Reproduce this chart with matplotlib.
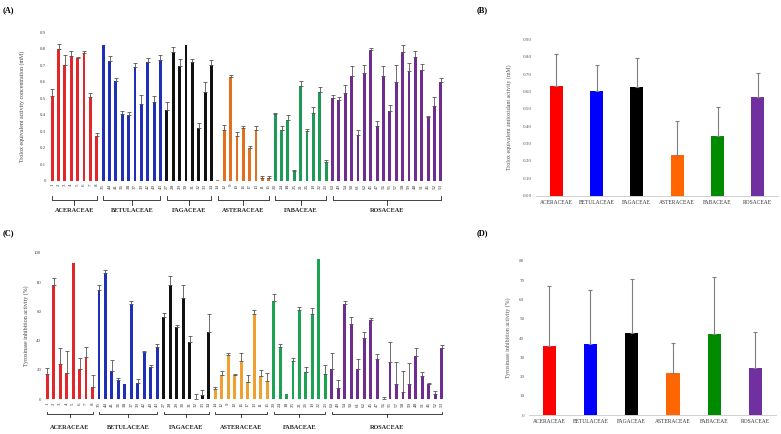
import numpy as np
import matplotlib
matplotlib.use("Agg")
import matplotlib.pyplot as plt
from matplotlib import transforms

plt.rcParams['font.family'] = ['Liberation Serif', 'DejaVu Serif']

families = ['ACERACEAE', 'BETULACEAE', 'FAGACEAE', 'ASTERACEAE', 'FABACEAE', 'ROSACEAE']

# sample numbers per family, in plotted order
samples = [
    ['1', '2', '3', '4', '5', '6', '7', '8'],
    ['35', '44', '41', '36', '38', '37', '39', '42', '40', '43'],
    ['27', '28', '29', '30', '31', '32', '33', '34'],
    ['14', '12', '9', '10', '16', '17', '13', '11', '15'],
    ['20', '24', '18', '25', '21', '26', '19', '22', '23'],
    ['60', '49', '54', '50', '61', '62', '45', '47', '56', '55', '57', '58', '59', '48', '51', '46', '52', '53'],
]

# (A) trolox equivalent activity per sample (mM)
trolox = [
    [0.514, 0.80, 0.70, 0.756, 0.742, 0.772, 0.508, 0.272],
    [0.82, 0.724, 0.603, 0.405, 0.397, 0.69, 0.464, 0.72, 0.478, 0.73],
    [0.43, 0.78, 0.695, 0.82, 0.716, 0.32, 0.54, 0.70],
    [0.004, 0.31, 0.63, 0.27, 0.32, 0.20, 0.31, 0.02, 0.02],
    [0.405, 0.31, 0.37, 0.06, 0.575, 0.30, 0.41, 0.54, 0.115],
    [0.50, 0.49, 0.53, 0.635, 0.28, 0.65, 0.79, 0.33, 0.635, 0.42, 0.60, 0.78, 0.665, 0.75, 0.67, 0.385, 0.45, 0.595],
]
trolox_err = [
    [0.04, 0.025, 0.06, 0.03, 0.008, 0.015, 0.025, 0.02],
    [0, 0.03, 0.02, 0.02, 0.02, 0.02, 0.055, 0.025, 0.035, 0.03],
    [0.05, 0.03, 0.04, 0, 0.02, 0.03, 0.06, 0.03],
    [0, 0.03, 0.01, 0.025, 0.01, 0.01, 0.02, 0.01, 0.01],
    [0.005, 0.02, 0.03, 0.005, 0.03, 0.015, 0.04, 0.03, 0.01],
    [0.02, 0.02, 0.05, 0.06, 0.03, 0.05, 0.015, 0.03, 0.06, 0.04, 0.1, 0.04, 0.05, 0.035, 0.035, 0.01, 0.06, 0.03],
]

# (C) tyrosinase inhibition per sample (%)
tyro = [
    [17.3, 78, 24.3, 18, 92.7, 21, 29, 8.6],
    [74.5, 86, 19, 13, 10.5, 65, 11.4, 32, 22, 36],
    [56, 78, 49, 69, 39, 0, 2.7, 46],
    [6.8, 16.6, 30, 16.4, 26.4, 11.6, 58, 16, 12.7],
    [67, 35.7, 3.4, 26.4, 61, 18.4, 58, 95.5, 17.3],
    [21, 7.5, 65, 51.6, 20.7, 42, 54.3, 27.3, 0, 25.5, 10.5, 5, 10.2, 29.3, 15.7, 10.5, 3.6, 35.2],
]
tyro_err = [
    [4, 4.5, 11, 15, 0, 7.5, 7, 8],
    [3.5, 2.5, 8, 1.5, 0, 2, 2.5, 1, 1.5, 2],
    [3, 6, 1.5, 9, 4, 3.6, 3.5, 12.5],
    [1.5, 2.5, 1.5, 1, 5, 5, 3, 4, 5.5],
    [5, 2, 0, 2, 2, 3.5, 4, 0, 6],
    [10.5, 5.5, 2, 4.5, 7, 4, 1, 3.5, 1.4, 13.5, 15, 14, 14.5, 6, 3, 0.5, 2.3, 1.8],
]

# (B) and (D) family means
fam_trolox = [0.63, 0.60, 0.624, 0.232, 0.343, 0.568]
fam_trolox_err = [0.185, 0.15, 0.17, 0.20, 0.17, 0.14]
fam_tyro = [36.0, 36.9, 42.6, 21.9, 42.2, 24.3]
fam_tyro_err = [31, 27.8, 28, 15.3, 29.5, 19]

colors_a = ['#e3262a', '#1f2fb8', '#111111', '#e46f1e', '#1d9a55', '#6f2c91']
colors_c = ['#e3262a', '#1f2fb8', '#111111', '#f0a030', '#1ba352', '#6f2c91']
colors_fam = ['#ff0000', '#0000ff', '#000000', '#ff6600', '#008a00', '#7030a0']

W, H = 781, 434
fig = plt.figure(figsize=(W / 100, H / 100), dpi=100)


def px_axes(left, top, right, bottom):
    return fig.add_axes([left / W, 1 - bottom / H, (right - left) / W, (bottom - top) / H])


def sample_panel(ax, vals, errs, colors, ymax, yticks, ylabel, br):
    x0 = 0
    for fam, v, e, c in zip(families, vals, errs, colors):
        x = np.arange(x0, x0 + len(v))
        ax.bar(x, v, width=0.45, color=c, zorder=2)
        e = np.array(e)
        m = e > 0
        ax.errorbar(x[m], np.array(v)[m], yerr=[np.zeros(m.sum()), e[m]], fmt='none',
                    ecolor='#555555', elinewidth=0.6, capsize=1.2, capthick=0.6, zorder=3)
        x0 += len(v)
    n = x0
    ax.set_xlim(-0.5, n - 0.5)
    ax.set_ylim(0, ymax)
    ax.set_yticks(yticks)
    ax.set_yticklabels([f'{t:g}' for t in yticks], fontsize=3.5, color='#444444')
    ax.set_xticks(range(n))
    ax.set_xticklabels([s for grp in samples for s in grp], rotation=90, fontsize=3.6, color='#333333')
    ax.tick_params(length=0, pad=2)
    for sp in ax.spines.values():
        sp.set_visible(False)
    ax.set_ylabel(ylabel, fontsize=4.2, color='#444444')

    # family brackets under the tick labels
    y_line, y_hook, y_tick, y_name = br
    trans = transforms.blended_transform_factory(ax.transData, ax.transAxes)
    start = 0
    for fam, grp in zip(families, samples):
        a, b = start, start + len(grp) - 1
        mid = (a + b) / 2
        ax.plot([a, a, b, b], [y_hook, y_line, y_line, y_hook], color='#222222', lw=0.6,
                transform=trans, clip_on=False)
        ax.plot([mid, mid], [y_line, y_tick], color='#222222', lw=0.6, transform=trans, clip_on=False)
        ax.text(mid, y_name, fam, transform=trans, ha='center', va='center',
                fontsize=4.5, fontweight='bold', color='#222222')
        start += len(grp)


def family_panel(ax, vals, errs, ymax, yticks, fmt, ylabel):
    x = np.arange(len(families))
    ax.bar(x, vals, width=0.32, color=colors_fam, zorder=2)
    ax.errorbar(x, vals, yerr=[np.zeros(len(x)), errs], fmt='none', ecolor='#7f7f7f',
                elinewidth=0.8, capsize=1.3, capthick=0.8, zorder=3)
    ax.set_xlim(-0.5, len(families) - 0.5)
    ax.set_ylim(0, ymax)
    ax.set_yticks(yticks)
    ax.set_yticklabels([fmt.format(t) for t in yticks], fontsize=3.6, color='#555555')
    ax.set_xticks(x)
    ax.set_xticklabels(families, fontsize=4, color='#333333')
    ax.tick_params(length=0, pad=3)
    for k in ['top', 'right', 'left']:
        ax.spines[k].set_visible(False)
    ax.spines['bottom'].set_color('#d0d0d0')
    ax.spines['bottom'].set_linewidth(0.7)
    ax.set_ylabel(ylabel, fontsize=4.2, color='#555555')


# (A)
ax_a = px_axes(49, 32, 444, 181)
sample_panel(ax_a, trolox, trolox_err, colors_a, 0.9, np.arange(0, 0.91, 0.1).round(1),
             'Trolox equivalent activity concentration (mM)', (-0.128, -0.10, -0.16, -0.195))
ax_a.yaxis.set_label_coords(-0.062, 0.5)

# (C)
ax_c = px_axes(44, 252.7, 445, 399.3)
sample_panel(ax_c, tyro, tyro_err, colors_c, 100, np.arange(0, 101, 20),
             'Tyrosinase inhibition activity (%)', (-0.102, -0.084, -0.12, -0.19))
ax_c.yaxis.set_label_coords(-0.038, 0.5)

# (B)
ax_b = px_axes(536, 39.3, 778, 195.7)
family_panel(ax_b, fam_trolox, fam_trolox_err, 0.9, np.arange(0, 0.91, 0.1),
             '{:.2f}', 'Trolox equivalent antioxidant activity (mM)')
ax_b.yaxis.set_label_coords(-0.10, 0.5)

# (D)
ax_d = px_axes(528.6, 260.7, 776, 415.3)
family_panel(ax_d, fam_tyro, fam_tyro_err, 80, np.arange(0, 81, 10),
             '{:g}', 'Tyrosinase inhibition activity (%)')
ax_d.yaxis.set_label_coords(-0.072, 0.5)

for lab, (px, py) in zip(['(A)', '(B)', '(C)', '(D)'], [(3, 10), (477, 10), (3, 18), (477, 233)]):
    fig.text(px / W, 1 - py / H, lab, fontsize=6, fontweight='bold', ha='left', va='center')

fig.texts[2].set_position((3 / W, 1 - 233 / H))

fig.savefig('out.png', dpi=100)
